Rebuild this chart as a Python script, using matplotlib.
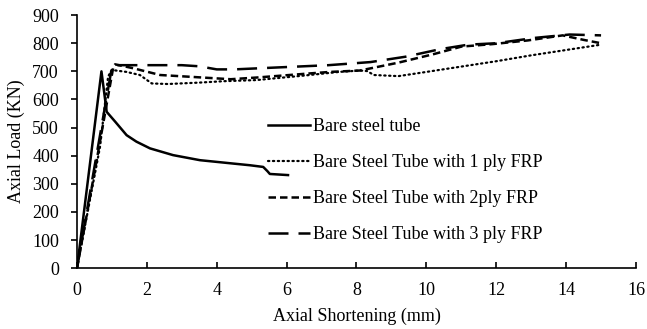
import matplotlib.pyplot as plt

plt.rcParams['font.family'] = ['Liberation Serif', 'DejaVu Serif']

# data
bare_x = [0, 0.35, 0.7, 0.85, 1.1, 1.42, 1.7, 2.09, 2.75, 3.52, 4.47, 4.95, 5.33, 5.45, 5.52, 6.04]
bare_y = [0, 350, 700, 556, 520, 473, 450, 426, 402, 384, 372, 366, 360, 345, 335, 331]

ply1_x = [0, 0.66, 0.89, 0.99, 1.42, 1.8, 2.14, 2.6, 3.5, 4.2, 5.14, 6.5, 7.5, 8.1, 8.3, 8.5, 9.2,
          10, 11, 12, 13, 14, 15]
ply1_y = [0, 432, 681, 705, 698, 687, 657, 655, 660, 665, 669, 685, 698, 703, 701, 687, 683,
          698, 717, 736, 757, 776, 795]

ply2_x = [0, 0.5, 1.04, 1.09, 1.61, 2.38, 3.33, 4.4, 5.14, 6.7, 7.24, 8.1, 9.2, 10.2, 11, 11.9,
          12.9, 13.9, 14.5, 15]
ply2_y = [0, 340, 716, 725, 711, 687, 680, 672, 678, 693, 698, 703, 731, 761, 788, 797,
          810, 828, 812, 800]

ply3_x = [0, 0.5, 1.0, 1.1, 2.0, 3.0, 3.5, 4.0, 4.5, 5.4, 7.2, 8.4, 9.4, 10.4, 11.2, 12, 13.1,
          14.1, 15]
ply3_y = [0, 360, 715, 722, 722, 722, 718, 707, 707, 712, 722, 733, 752, 779, 795, 800, 819,
          831, 828]

labels = ['Bare steel tube', 'Bare Steel Tube with 1 ply FRP',
          'Bare Steel Tube with 2ply FRP', 'Bare Steel Tube with 3 ply FRP']

fs = 13

fig = plt.figure(figsize=(6.47, 3.29), dpi=100)
ax = fig.add_axes([0.119, 0.185, 0.864, 0.769])

ax.plot(bare_x, bare_y, color='black', lw=1.8, linestyle='-', label=labels[0])
ax.plot(ply1_x, ply1_y, color='black', lw=1.6, linestyle=(0, (0.6, 1.6)),
        dash_capstyle='round', label=labels[1])
ax.plot(ply2_x, ply2_y, color='black', lw=1.8, linestyle=(0, (3, 1.6)), label=labels[2])
ax.plot(ply3_x, ply3_y, color='black', lw=1.8, linestyle=(0, (8, 4)), label=labels[3])

ax.set_xlim(0, 16)
ax.set_ylim(0, 900)
ax.set_xticks(range(0, 17, 2))
ax.set_yticks(range(0, 901, 100))
ax.spines['top'].set_visible(False)
ax.spines['right'].set_visible(False)
ax.spines['left'].set_linewidth(1.2)
ax.spines['bottom'].set_linewidth(1.2)
ax.tick_params(axis='x', direction='in', length=4, width=1.2, labelsize=fs, pad=10)
ax.tick_params(axis='y', direction='out', length=4, width=1.2, labelsize=fs, pad=9)
ax.set_xlabel('Axial Shortening (mm)', fontsize=fs, labelpad=6)
ax.set_ylabel('Axial Load (KN)', fontsize=fs, labelpad=5)

leg = ax.legend(loc='upper left', bbox_to_anchor=(0.403, 0.662), bbox_transform=fig.transFigure,
                frameon=False, fontsize=fs, handlelength=2.35, handletextpad=0.15,
                labelspacing=1.05, borderaxespad=0)

fig.savefig('out.png', dpi=100)
